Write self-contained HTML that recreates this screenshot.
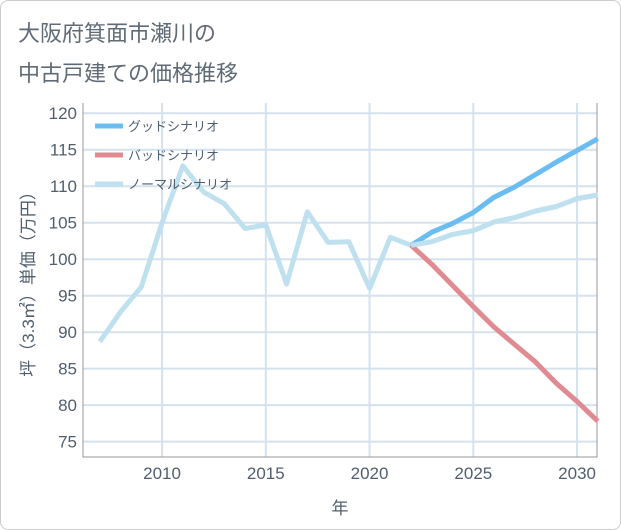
<!DOCTYPE html>
<html><head><meta charset="utf-8"><style>
body{margin:0;background:#fff;}
#wrap{position:relative;width:621px;height:530px;font-family:"Liberation Sans","Noto Sans CJK JP",sans-serif;}
#frame{position:absolute;left:0;top:0;width:619px;height:528px;border:1px solid #ccc;border-radius:8px;}
.title{position:absolute;left:18px;font-size:22px;color:#5f6b76;}
</style></head><body>
<div id="wrap">
<div id="frame"></div>
<div class="title" style="top:16px">大阪府箕面市瀬川の</div>
<div class="title" style="top:56px">中古戸建ての価格推移</div>
<svg id="chart" width="621" height="530" style="position:absolute;left:0;top:0"></svg>
</div>
<script>
const years=[2007,2008,2009,2010,2011,2012,2013,2014,2015,2016,2017,2018,2019,2020,2021,2022,2023,2024,2025,2026,2027,2028,2029,2030,2031];
const normalVals=[88.7,92.8,96.2,105,112.8,109.2,107.6,104.2,104.7,96.6,106.5,102.3,102.4,96,103,101.9,102.4,103.4,103.9,105.1,105.7,106.6,107.2,108.3,108.8];
const goodYears=[2022,2023,2024,2025,2026,2027,2028,2029,2030,2031];
const goodVals=[101.9,103.7,104.9,106.4,108.5,109.9,111.6,113.3,114.9,116.5];
const badVals=[101.9,99.3,96.4,93.5,90.7,88.3,85.9,83.0,80.5,77.8];
const yTicks=[75,80,85,90,95,100,105,110,115,120];
const xTicks=[2010,2015,2020,2025,2030];
const legendLabels=["グッドシナリオ","バッドシナリオ","ノーマルシナリオ"];

const svg=document.getElementById('chart');
const NS='http://www.w3.org/2000/svg';
const TXT='#4f5f6f';
const L=83,R=597,T=103,B=457;
const xMin=2006.19,xMax=2030.96,yMin=72.9,yMax=121.4;
const X=v=>L+(v-xMin)/(xMax-xMin)*(R-L);
const Y=v=>B-(v-yMin)/(yMax-yMin)*(B-T);
function mk(tag,attrs){const e=document.createElementNS(NS,tag);for(const k in attrs)e.setAttribute(k,attrs[k]);svg.appendChild(e);return e;}

for(const t of yTicks){
 const g=mk('line',{x1:L,x2:R,y1:Y(t),y2:Y(t),stroke:'#d3e2ee','stroke-width':2});
 
 
 const tx=mk('text',{x:L-6,y:Y(t)+6,'text-anchor':'end','font-size':17,fill:TXT});
 tx.textContent=t;
 
 
}
for(const t of xTicks){
 const g=mk('line',{x1:X(t),x2:X(t),y1:T,y2:B,stroke:'#d3e2ee','stroke-width':2});
 
 
 const tx=mk('text',{x:X(t),y:B+22,'text-anchor':'middle','font-size':17,fill:TXT});
 tx.textContent=t;
 
 
}
const ax=mk('path',{d:`M${L},${T}V${B}H${R}V${T}`,fill:'none',stroke:'#999','stroke-width':1});



function line(xs,vals,color,name){
 const d=vals.map((v,i)=>(i?'L':'M')+X(xs[i]).toFixed(1)+','+Y(v).toFixed(1)).join('');
 const p=mk('path',{d:d,fill:'none',stroke:color,'stroke-width':5,'stroke-linejoin':'round'});
 
 
}
line(years,normalVals,'#bfe0ef','normal-scenario-line');
line(goodYears,badVals,'#e08b92','bad-scenario-line');
line(goodYears,goodVals,'#6bbcf1','good-scenario-line');
line(years.slice(15),normalVals.slice(15),'#bfe0ef','normal-scenario-forecast');

const colors=['#6bbcf1','#e08b92','#bfe0ef'];
legendLabels.forEach((lab,i)=>{
 const y=126+i*29;
 const l=mk('line',{x1:95,x2:123,y1:y,y2:y,stroke:colors[i],'stroke-width':5});
 
 
 const t=mk('text',{x:128,y:y+5,'font-size':13,fill:TXT});
 t.textContent=lab;
 
 
});
const xt=mk('text',{x:340,y:514,'text-anchor':'middle','font-size':17,fill:TXT});
xt.textContent='年';


const yt=mk('text',{x:0,y:0,'text-anchor':'middle','font-size':17,fill:TXT,transform:'translate(34,280) rotate(-90)'});
yt.textContent='坪（3.3㎡）単価（万円）';


</script>
</body></html>
